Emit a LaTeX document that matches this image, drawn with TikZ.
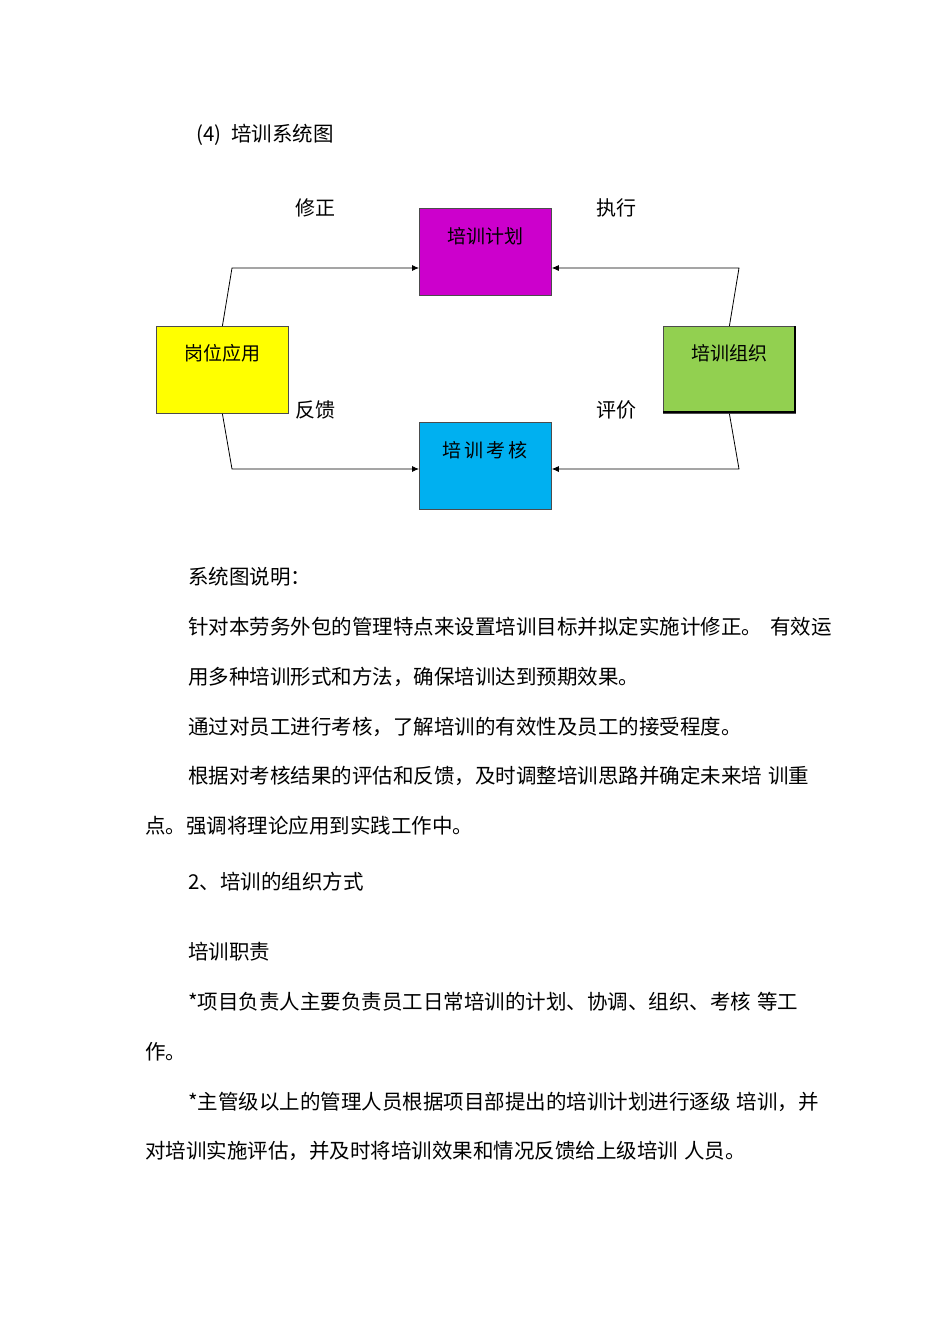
\documentclass[tikz,border=0pt]{standalone}
\usepackage{fontspec}
\newfontfamily\cjk{Noto Sans CJK SC}
\usetikzlibrary{arrows.meta}
\definecolor{mag}{HTML}{CC00CC}
\definecolor{yel}{HTML}{FFFF00}
\definecolor{grn}{HTML}{92D050}
\definecolor{cya}{HTML}{00B0F0}
\begin{document}
\begin{tikzpicture}[x=1pt,y=-1pt,
  box/.style={draw=black!70,line width=0.8pt,minimum width=132pt,minimum height=87pt,anchor=north west,inner sep=0pt},
  btxt/.style={font=\cjk\fontsize{19}{19}\selectfont},
  lbl/.style={font=\cjk\fontsize{20}{20}\selectfont},
  body/.style={font=\cjk\fontsize{20.5}{20.5}\selectfont,anchor=west,inner sep=0pt},
  conn/.style={line width=0.8pt,-{Latex[length=7pt,width=6pt]}}]
\useasboundingbox (0,0) rectangle (950,1344);
\node[body] (title) at (196,135) {(4)\hspace{10pt}培训系统图};
\node[box,fill=mag] (plan) at (419,208) {};
\node[btxt] at (485,236) {培训计划};
\node[box,fill=yel] (app) at (156,326) {};
\node[btxt] at (222,353) {岗位应用};
\node[box,fill=grn] (org) at (663,326) {};
\draw[line width=1.5pt] (795,326) -- (795,412) -- (663,412);
\node[btxt] at (729,353) {培训组织};
\node[box,fill=cya] (exam) at (419,422) {};
\node[btxt] at (485,450) {培\,训\,考\,核};
\coordinate (c1) at (232,268); \coordinate (c2) at (739,268);
\coordinate (c3) at (232,469); \coordinate (c4) at (739,469);
\draw[conn] (app.north) -- (c1) -- (c1 -| plan.west);
\draw[conn] (org.north) -- (c2) -- (c2 -| plan.east);
\draw[conn] (app.south) -- (c3) -- (c3 -| exam.west);
\draw[conn] (org.south) -- (c4) -- (c4 -| exam.east);
\node[lbl] (l1) at (315,208) {修正};
\node[lbl] (l2) at (616,208) {执行};
\node[lbl] (l3) at (315,410) {反馈};
\node[lbl] (l4) at (616,410) {评价};
\node[body] (t1) at (188,577) {系统图说明：};
\node[body] (t2) at (188,627) {针对本劳务外包的管理特点来设置培训目标并拟定实施计修正。\hspace{8pt}有效运};
\node[body] (t3) at (188,677) {用多种培训形式和方法，确保培训达到预期效果。};
\node[body] (t4) at (188,727) {通过对员工进行考核，了解培训的有效性及员工的接受程度。};
\node[body] (t5) at (188,776) {根据对考核结果的评估和反馈，及时调整培训思路并确定未来培\hspace{6pt}训重};
\node[body] (t6) at (145,826) {点。强调将理论应用到实践工作中。};
\node[body] (t7) at (188,882) {2、培训的组织方式};
\node[body] (t8) at (188,952) {培训职责};
\node[body] (t9) at (188,1002) {*项目负责人主要负责员工日常培训的计划、协调、组织、考核\hspace{6pt}等工};
\node[body] (t10) at (145,1052) {作。};
\node[body] (t11) at (188,1102) {*主管级以上的管理人员根据项目部提出的培训计划进行逐级\hspace{6pt}培训，并};
\node[body] (t12) at (145,1151) {对培训实施评估，并及时将培训效果和情况反馈给上级培训\hspace{6pt}人员。};
\end{tikzpicture}
\end{document}
